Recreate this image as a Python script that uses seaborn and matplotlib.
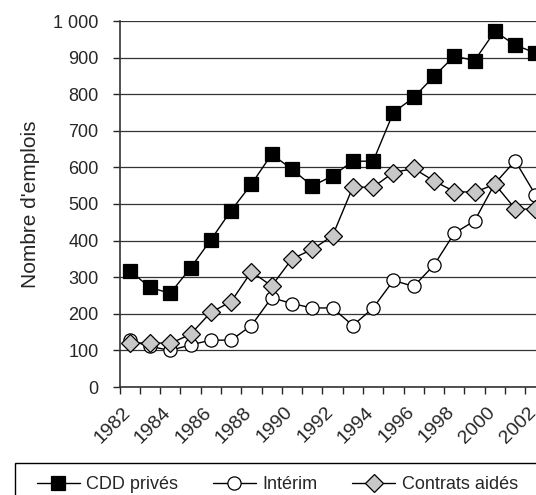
import pandas as pd
import matplotlib
matplotlib.use("Agg")
import matplotlib.pyplot as plt
import matplotlib.ticker as mticker
from matplotlib.patches import Rectangle
import seaborn as sns

years = list(range(1982, 2003))
cdd_prives = [318, 272, 256, 325, 402, 482, 554, 636, 595, 549, 577, 617, 617,
              750, 791, 849, 904, 892, 972, 934, 913]
interim = [128, 111, 100, 115, 128, 128, 168, 244, 228, 216, 216, 168, 216,
           291, 275, 333, 420, 454, 556, 618, 525]
contrats_aides = [119, 121, 119, 144, 204, 233, 315, 276, 350, 376, 413, 546, 546,
                  586, 597, 563, 534, 532, 554, 487, 485]

df = pd.DataFrame({"year": years, "CDD privés": cdd_prives,
                   "Intérim": interim, "Contrats aidés": contrats_aides})

sns.set_style("white")
plt.rcParams['font.family'] = ['Liberation Sans', 'DejaVu Sans']

fig = plt.figure(figsize=(5.36, 4.95), dpi=100)
# axes run past the right edge of the picture, as in the reference
ax = fig.add_axes([119.5 / 536, (495 - 387) / 495, (545.6 - 119.5) / 536, 366 / 495])

styles = {
    "CDD privés": dict(marker="s", markerfacecolor="black", markersize=9.5),
    "Intérim": dict(marker="o", markerfacecolor="white", markersize=9.5),
    "Contrats aidés": dict(marker="D", markerfacecolor="#c8c8c8", markersize=9.5),
}
for name, st in styles.items():
    sns.lineplot(data=df, x="year", y=name, ax=ax, color="black", linewidth=1,
                 markeredgecolor="black", markeredgewidth=0.9, label=name, **st)

ax.set_xlim(1981.5, 2002.5)
ax.set_ylim(0, 1000)
ax.yaxis.set_major_locator(mticker.MultipleLocator(100))
ax.yaxis.set_major_formatter(mticker.FuncFormatter(lambda v, p: f"{int(v):,}".replace(",", " ")))
ax.grid(axis="y", color="#333333", linewidth=0.9)
ax.set_axisbelow(True)

# year labels: right end sits at the category centre (invisible ticks nudged left)
ax.set_xticks([y - 0.4 for y in years[::2]])
ax.set_xticklabels([str(y) for y in years[::2]], rotation=45, ha="right",
                   rotation_mode="anchor")
ax.set_xticks([y - 0.5 for y in years] + [2002.5], minor=True)
ax.tick_params(axis="x", which="major", length=0, pad=12, labelsize=14)
ax.tick_params(axis="x", which="minor", length=5, width=1, direction="out", bottom=True)
ax.tick_params(axis="y", length=5, width=1, direction="out", left=True, labelsize=13, pad=10)

for s in ["left", "bottom"]:
    ax.spines[s].set_color("#333333")
    ax.spines[s].set_linewidth(1.2)
ax.spines["right"].set_visible(False)
ax.spines["top"].set_visible(False)

ax.set_xlabel("")
ax.set_ylabel("Nombre d'emplois", fontsize=15)
ax.yaxis.set_label_coords(-0.186, 0.5)

ax.get_legend().remove()
handles, labels = ax.get_legend_handles_labels()
fig.legend(handles, labels, loc="upper left", bbox_to_anchor=(26 / 536, 1 - 465 / 495),
           ncol=3, fontsize=13, frameon=False,
           handlelength=2.4, handletextpad=0.35, columnspacing=1.9, borderpad=0.6,
           borderaxespad=0)
# legend box, cut by the right and bottom edges like the reference
fig.patches.append(Rectangle((15 / 536, -0.05), 1.0, 0.05 + 1 - 463 / 495,
                             transform=fig.transFigure, fill=False,
                             edgecolor="black", linewidth=1))

fig.savefig("out.png", dpi=100)
